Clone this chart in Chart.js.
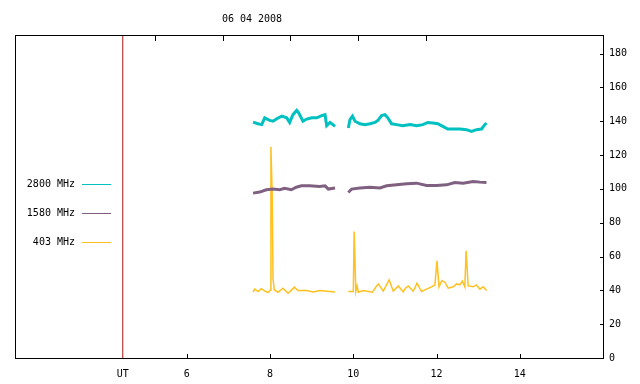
<!DOCTYPE html>
<html>
<head>
<meta charset="utf-8">
<script src="https://cdn.jsdelivr.net/npm/chart.js@4/dist/chart.umd.min.js"></script>
<style>
  html, body { margin: 0; padding: 0; background: #fff; }
</style>
</head>
<body>
<canvas id="myChart" width="640" height="384"></canvas>
<script>
// hours UT on x, solar flux on y
const titleText = '06 04 2008';
const utTime = 4.46;
const bottomTicks = [utTime, 6, 8, 10, 12, 14];
const topTicks = [2, 4, 6, 8, 10];
const yTicks = [0, 20, 40, 60, 80, 100, 120, 140, 160, 180];

const labels = ['2800 MHz', '1580 MHz', '403 MHz'];
const colors = ['rgb(0,192,192)', 'rgb(128,96,128)', 'rgb(255,192,32)'];

// 2800 MHz
const t2800 = [7.59, 7.71, 7.80, 7.87, 7.99, 8.07, 8.16, 8.28, 8.40, 8.47, 8.55, 8.64, 8.69, 8.79, 8.88, 9.00, 9.12, 9.24, 9.32, 9.36, 9.44, 9.51, 9.56,
  9.70,
  9.88, 9.92, 9.98, 10.04, 10.16, 10.28, 10.40, 10.52, 10.59, 10.68, 10.76, 10.83, 10.92, 11.04, 11.19, 11.36, 11.52, 11.67, 11.79, 11.91, 12.03, 12.15, 12.27, 12.39, 12.56, 12.72, 12.84, 12.96, 13.08, 13.16, 13.20];
const v2800 = [139.5, 138.5, 138, 142, 140.5, 140, 141.5, 143, 142, 139.3, 143.9, 146.4, 144.9, 140, 141.3, 142, 142, 143.3, 143.9, 137.4, 139.3, 138, 137,
  null,
  136, 141, 143, 140, 138.5, 138, 138.5, 139.3, 140.5, 143.3, 143.9, 142, 138.5, 138, 137.4, 138, 137.4, 138, 139.3, 139, 138.5, 137, 135.4, 135.4, 135.4, 135, 134, 135, 135.4, 138, 139];

// 1580 MHz
const t1580 = [7.59, 7.75, 7.91, 8.07, 8.23, 8.35, 8.51, 8.63, 8.75, 8.95, 9.19, 9.32, 9.40, 9.56,
  9.70,
  9.88, 9.96, 10.16, 10.40, 10.64, 10.80, 11.04, 11.28, 11.52, 11.76, 12.00, 12.24, 12.44, 12.64, 12.88, 13.04, 13.20];
const v1580 = [97.5, 98.1, 99.5, 99.9, 99.5, 100.3, 99.5, 101, 101.8, 101.8, 101.4, 101.8, 99.9, 100.5,
  null,
  97.9, 99.9, 100.5, 101, 100.5, 101.8, 102.4, 103, 103.4, 102, 102, 102.4, 103.8, 103.4, 104.4, 104, 103.8];

// 403 MHz
const t403 = [7.59, 7.63, 7.71, 7.79, 7.87, 7.95, 8.00, 8.02, 8.05, 8.07, 8.10, 8.19, 8.31, 8.43, 8.52, 8.58, 8.67, 8.88, 9.03, 9.20, 9.36, 9.56,
  9.70,
  9.88, 10.00, 10.02, 10.06, 10.09, 10.12, 10.24, 10.46, 10.56, 10.60, 10.72, 10.86, 10.96, 11.08, 11.20, 11.25, 11.32, 11.44, 11.53, 11.64, 11.76, 11.88, 11.96, 12.01, 12.06, 12.13, 12.20, 12.28, 12.40, 12.48, 12.56, 12.62, 12.68, 12.71, 12.76, 12.88, 12.96, 13.04, 13.12, 13.20];
const v403 = [38.9, 40.7, 39.3, 41, 39.7, 38.7, 40, 124.7, 97.5, 47, 40.3, 38.9, 41.3, 38.3, 40.3, 41.9, 39.9, 39.9, 39.1, 39.9, 39.5, 39.1,
  null,
  39.3, 39.3, 74.8, 39.3, 42.6, 38.9, 39.9, 38.9, 42.6, 43.8, 39.6, 46.2, 39.5, 42.6, 39.1, 41.3, 42.6, 39.5, 44.2, 39.3, 40.7, 42.1, 43.2, 57.4, 42.1, 45.8, 44.8, 41.3, 42.1, 43.8, 43.2, 45.5, 42.1, 63.4, 42.6, 42.1, 43.2, 40.7, 42.1, 39.9];

function toPoints(ts, vs) {
  return ts.map((t, i) => ({ x: t, y: vs[i] }));
}

Chart.defaults.font.family = '"DejaVu Sans Mono", monospace';
Chart.defaults.font.size = 10;
Chart.defaults.color = '#000';

// box, inward tick marks, title and the left legend
const frame = {
  id: 'frame',
  afterDraw(chart) {
    const ctx = chart.ctx;
    const a = chart.chartArea;
    const left = Math.round(a.left);
    const right = Math.round(a.right);
    const top = Math.round(a.top);
    const bottom = Math.round(a.bottom);
    ctx.save();
    ctx.fillStyle = '#000';
    // box
    ctx.fillRect(left, top, right - left + 1, 1);
    ctx.fillRect(left, bottom, right - left + 1, 1);
    ctx.fillRect(left, top, 1, bottom - top + 1);
    ctx.fillRect(right, top, 1, bottom - top + 1);
    // ticks pointing into the plot
    bottomTicks.slice(1).forEach((v) => {
      const px = Math.round(chart.scales.x.getPixelForValue(v));
      ctx.fillRect(px, bottom - 4, 1, 4);
    });
    topTicks.forEach((v) => {
      const px = Math.round(chart.scales.x2.getPixelForValue(v));
      ctx.fillRect(px, top + 1, 1, 5);
    });
    yTicks.slice(1).forEach((v) => {
      const py = Math.round(chart.scales.y.getPixelForValue(v));
      ctx.fillRect(right - 3, py, 3, 1);
    });

    ctx.font = '10px "DejaVu Sans Mono"';
    ctx.textAlign = 'center';
    ctx.textBaseline = 'middle';
    ctx.fillText(titleText, 252, 19);

    ctx.textAlign = 'right';
    labels.forEach((lab, i) => {
      const ly = 184 + i * 29;
      ctx.fillStyle = '#000';
      ctx.fillText(lab, 75, ly + 0.5);
      ctx.fillStyle = colors[i];
      ctx.fillRect(82, ly, 29, 1);
    });
    ctx.restore();
  },
};

const config = {
  type: 'line',
  data: {
    datasets: [
      { label: labels[0], data: toPoints(t2800, v2800), borderColor: colors[0], borderWidth: 3 },
      { label: labels[1], data: toPoints(t1580, v1580), borderColor: colors[1], borderWidth: 3 },
      { label: labels[2], data: toPoints(t403, v403), borderColor: colors[2], borderWidth: 1.5 },
      {
        label: 'UT',
        data: [{ x: utTime, y: 0 }, { x: utTime, y: 191 }],
        borderColor: 'rgb(170,20,20)',
        borderWidth: 1,
      },
    ],
  },
  options: {
    responsive: false,
    animation: false,
    spanGaps: false,
    elements: { point: { radius: 0 }, line: { tension: 0 } },
    layout: { padding: { left: 15, right: 0, top: 0, bottom: 0 } },
    plugins: { legend: { display: false }, tooltip: { enabled: false } },
    scales: {
      x: {
        type: 'linear',
        position: 'bottom',
        min: 1.87,
        max: 16,
        grid: { display: false, drawTicks: false },
        border: { display: false },
        afterBuildTicks: (s) => { s.ticks = bottomTicks.map((v) => ({ value: v })); },
        afterFit: (s) => { s.height = 26; },
        ticks: {
          padding: 10,
          maxRotation: 0,
          autoSkip: false,
          callback: (v) => (v === utTime ? 'UT' : v),
        },
      },
      x2: {
        type: 'linear',
        position: 'top',
        min: -2.13,
        max: 15.23,
        grid: { display: false, drawTicks: false },
        border: { display: false },
        ticks: { display: false },
        afterFit: (s) => { s.height = 35; },
      },
      y: {
        type: 'linear',
        position: 'right',
        min: 0,
        max: 191,
        grid: { display: false, drawTicks: false },
        border: { display: false },
        afterBuildTicks: (s) => { s.ticks = yTicks.map((v) => ({ value: v })); },
        afterFit: (s) => { s.width = 37; },
        ticks: { padding: 6 },
      },
    },
  },
  plugins: [frame],
};

const myChart = new Chart(document.getElementById('myChart'), config);
</script>
</body>
</html>
